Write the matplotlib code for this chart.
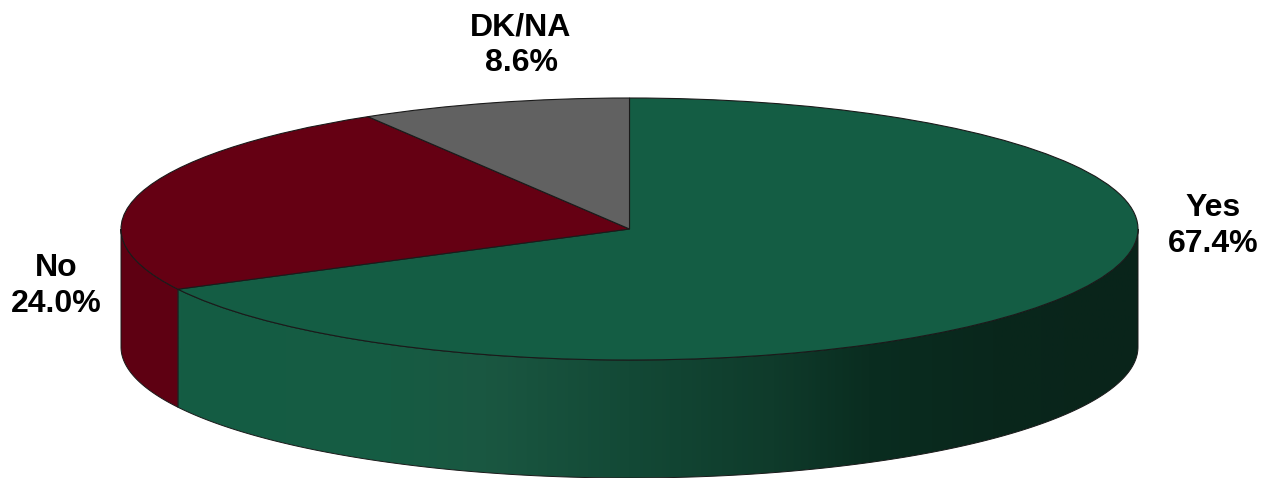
import numpy as np
import matplotlib
matplotlib.use('Agg')
import matplotlib.pyplot as plt
from matplotlib.colors import LinearSegmentedColormap
from matplotlib.patches import Polygon

labels = ['Yes', 'No', 'DK/NA']
values = [67.4, 24.0, 8.6]
colors = ['#145d44', '#650013', '#616161']

W, H = 1262, 478
cx, cy = 629.5, 229
rx, ry = 508.5, 131
depth = 118 / ry

plt.rcParams['font.family'] = ['Liberation Sans', 'DejaVu Sans']

fig = plt.figure(figsize=(W / 100, H / 100), dpi=100)
ax = fig.add_axes([0, 0, 1, 1])

# pie starts at 12 o'clock and goes clockwise, y squashed afterwards by the limits
wedges, _ = ax.pie(values, colors=colors, startangle=90, counterclock=False, radius=1,
                   wedgeprops=dict(edgecolor='#1a1a1a', linewidth=0.8), frame=True)
for w in wedges:
    w.set_zorder(5)
ax.set_aspect('auto')
xlim = (-cx / rx, (W - cx) / rx)
ylim = (-(H - cy) / ry, cy / ry)
ax.set_xlim(xlim)
ax.set_ylim(ylim)
ax.axis('off')


def rim(a1, a2):
    t = np.radians(np.linspace(a1, a2, 200))
    top = np.column_stack([np.cos(t), np.sin(t)])
    low = top[::-1] - [0, depth]
    return np.vstack([top, low])


# visible side runs from the right edge (0 deg) round the front to the left edge (-180 deg)
split = 90 - values[0] * 3.6

yes_side = Polygon(rim(0, split), closed=True, facecolor='none', edgecolor='none')
ax.add_patch(yes_side)
grad = LinearSegmentedColormap.from_list('side', [
    (0.0, '#145d44'), (0.22, '#165c43'), (0.32, '#1a5741'), (0.47, '#134936'),
    (0.62, '#0f3b2b'), (0.72, '#0a2d20'), (0.85, '#09271c'), (1.0, '#09241a')])
left = np.cos(np.radians(split))
img = ax.imshow(np.linspace(0, 1, 512)[None, :], cmap=grad, vmin=0, vmax=1,
                extent=(left, 1, ylim[0], ylim[1]), aspect='auto', zorder=2)
img.set_clip_path(yes_side)
ax.set_xlim(xlim)
ax.set_ylim(ylim)
ax.add_patch(Polygon(rim(0, split), closed=True, facecolor='none',
                     edgecolor='#1a1a1a', linewidth=0.7, zorder=3))
ax.add_patch(Polygon(rim(split, -180), closed=True, facecolor='#5e0012',
                     edgecolor='#1a1a1a', linewidth=0.7, zorder=3))

# labels placed from pixel positions of the original
label_pos = [(1213, 226), (56, 286), (521, 45)]
for name, val, (px, py) in zip(labels, values, label_pos):
    ax.text((px - cx) / rx, (cy - py) / ry, f'{name}\n{val:.1f}%', ha='center', va='center',
            fontsize=23, fontweight='bold', color='black', linespacing=1.22, zorder=6)

fig.savefig('out.png', dpi=100)
